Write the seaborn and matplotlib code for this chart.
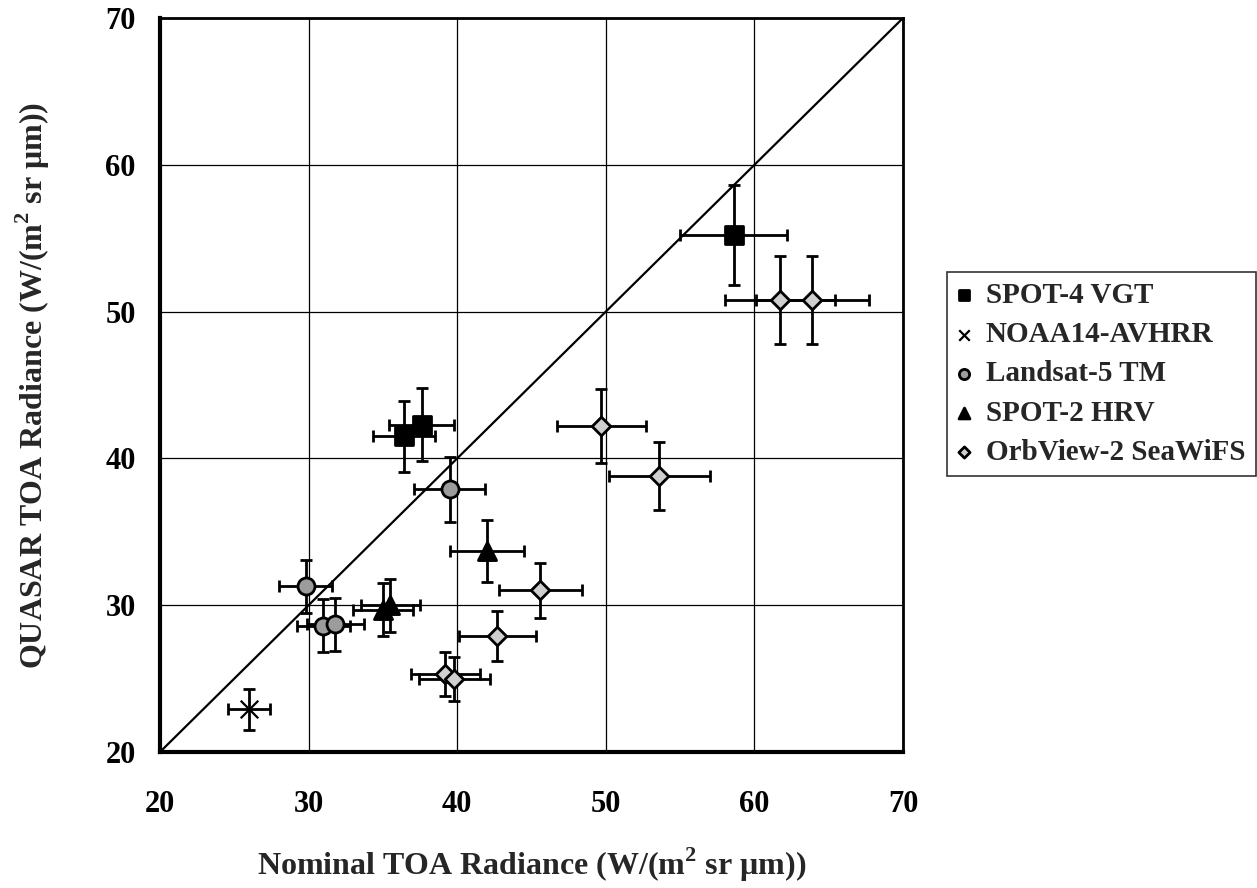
import pandas as pd
import matplotlib
matplotlib.use("Agg")
import matplotlib.pyplot as plt
import seaborn as sns

# values
spot4_x = [36.4, 37.6, 58.6]
spot4_y = [41.5, 42.3, 55.2]
spot4_xerr = [2.1, 2.2, 3.6]
spot4_yerr = [2.4, 2.5, 3.4]

noaa_x = [26.0]
noaa_y = [22.9]
noaa_xerr = [1.4]
noaa_yerr = [1.4]

landsat_x = [29.8, 31.0, 31.8, 39.5]
landsat_y = [31.3, 28.6, 28.7, 37.9]
landsat_xerr = [1.8, 1.8, 1.9, 2.4]
landsat_yerr = [1.8, 1.8, 1.8, 2.2]

spot2_x = [35.0, 35.5, 42.0]
spot2_y = [29.7, 30.0, 33.7]
spot2_xerr = [2.0, 2.0, 2.5]
spot2_yerr = [1.8, 1.8, 2.1]

seawifs_x = [39.2, 39.8, 42.7, 45.6, 49.7, 53.6, 61.7, 63.9]
seawifs_y = [25.3, 25.0, 27.9, 31.0, 42.2, 38.8, 50.8, 50.8]
seawifs_xerr = [2.3, 2.4, 2.6, 2.8, 3.0, 3.4, 3.7, 3.8]
seawifs_yerr = [1.5, 1.5, 1.7, 1.9, 2.5, 2.3, 3.0, 3.0]

one_to_one = [20, 70]
ticks = [20, 30, 40, 50, 60, 70]

# sensor name, data, marker, face colour, marker size
series = [
    ("SPOT-4 VGT", spot4_x, spot4_y, spot4_xerr, spot4_yerr, "s", "black", 150),
    ("NOAA14-AVHRR", noaa_x, noaa_y, noaa_xerr, noaa_yerr, "x", "black", 160),
    ("Landsat-5 TM", landsat_x, landsat_y, landsat_xerr, landsat_yerr, "o", "#9c9c9c", 150),
    ("SPOT-2 HRV", spot2_x, spot2_y, spot2_xerr, spot2_yerr, "^", "black", 170),
    ("OrbView-2 SeaWiFS", seawifs_x, seawifs_y, seawifs_xerr, seawifs_yerr, "D", "#cfcfcf", 90),
]

sns.set_style("white")
plt.rcParams['font.family'] = ['Liberation Serif', 'DejaVu Serif']
plt.rcParams['font.weight'] = 'bold'
plt.rcParams['mathtext.fontset'] = 'custom'
plt.rcParams['mathtext.rm'] = 'Liberation Serif:bold'
plt.rcParams['mathtext.bf'] = 'Liberation Serif:bold'

fig = plt.figure(figsize=(12.57, 8.88), dpi=100)
ax = fig.add_axes([0.1273, 0.1532, 0.5911, 0.8265])

ax.plot(one_to_one, one_to_one, color="black", lw=1.6, zorder=2)

for name, xs, ys, xe, ye, mk, fc, sz in series:
    d = pd.DataFrame({"x": xs, "y": ys})
    ax.errorbar(d["x"], d["y"], xerr=xe, yerr=ye, fmt="none", ecolor="black",
                elinewidth=2, capsize=4, capthick=2, zorder=3)
    if mk == "x":
        sns.scatterplot(data=d, x="x", y="y", marker=mk, color="black", s=sz,
                        linewidth=1.6, label=name, ax=ax, zorder=4)
    else:
        sns.scatterplot(data=d, x="x", y="y", marker=mk, color=fc, s=sz,
                        edgecolor="black", linewidth=2, label=name, ax=ax, zorder=4)

ax.set_xlim(20, 70)
ax.set_ylim(20, 70)
ax.set_xticks(ticks)
ax.set_yticks(ticks)
ax.grid(True, color="black", lw=0.9)
ax.set_axisbelow(True)
for side in ["top", "right"]:
    ax.spines[side].set_linewidth(2)
for side in ["left", "bottom"]:
    ax.spines[side].set_linewidth(3)
for sp in ax.spines.values():
    sp.set_color("black")

ax.tick_params(axis="both", direction="out", length=7.5, width=1.2, colors="black",
               labelsize=22)
ax.tick_params(axis="y", pad=10)
ax.tick_params(axis="x", pad=20)
for lab in ax.get_xticklabels() + ax.get_yticklabels():
    lab.set_fontweight("bold")

ax.set_xlabel(r"Nominal TOA Radiance (W/(m$^{2}$ sr $\mathregular{\mu}$m))",
              fontsize=23, fontweight="bold")
ax.set_ylabel(r"QUASAR TOA Radiance (W/(m$^{2}$ sr $\mathregular{\mu}$m))",
              fontsize=23, fontweight="bold")
ax.xaxis.set_label_coords(0.5, -0.128)
ax.yaxis.set_label_coords(-0.146, 0.5)

leg = ax.legend(loc="upper left", bbox_to_anchor=(0.753, 0.694),
                bbox_transform=fig.transFigure, frameon=True, fancybox=False,
                edgecolor="black", handlelength=0.5,
                handletextpad=0.5, labelspacing=0.42, borderpad=0.35,
                borderaxespad=0, markerscale=0.6,
                prop={"weight": "bold", "size": 21})
leg.get_frame().set_linewidth(1.2)

plt.savefig("out.png", dpi=100)
